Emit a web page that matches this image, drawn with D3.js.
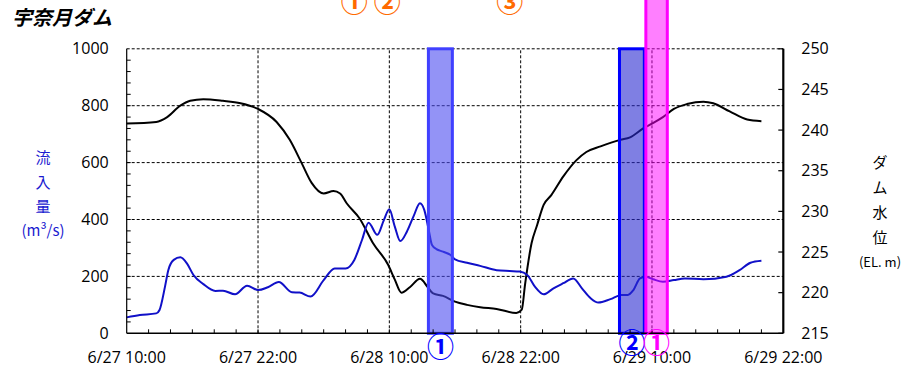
<!DOCTYPE html>
<html>
<head>
<meta charset="utf-8">
<script src="https://cdn.jsdelivr.net/npm/d3@7"></script>
<style>
  body { margin: 0; background: #fff; }
  svg { display: block; font-family: "Open Sans", "Noto Sans CJK JP", sans-serif; }
</style>
</head>
<body>
<div id="chart"></div>
<script>
// hours counted from 6/27 10:00
const inflowHours = [0, 1.2, 2.7, 3.0, 3.5, 3.8, 4.3, 4.9, 5.5, 6.1, 7.0, 8.1, 8.8, 9.9, 11.0, 12.0, 12.9, 13.9, 15.1, 15.8, 16.8, 18.0, 19.0, 20.0, 20.8, 21.5, 22.1, 22.9, 23.5, 24.0, 24.5, 25.0, 25.6, 26.2, 26.8, 27.2, 27.6, 27.9, 28.3, 28.9, 29.6, 30.0, 31.1, 32.3, 33.8, 35.0, 35.9, 36.6, 37.3, 38.1, 39.0, 39.9, 40.8, 41.6, 42.4, 43.1, 44.2, 45.2, 45.8, 46.3, 46.9, 47.4, 48.1, 49.0, 50.0, 51.0, 52.7, 54.8, 56.0, 57.0, 58.0];
const inflow = [56, 64, 70, 82, 164, 222, 258, 267, 246, 205, 173, 149, 150, 137, 167, 152, 162, 180, 144, 143, 129, 187, 228, 228, 258, 328, 389, 346, 398, 436, 375, 324, 357, 410, 457, 433, 363, 310, 296, 287, 275, 260, 248, 237, 222, 219, 217, 205, 164, 137, 158, 176, 193, 158, 123, 108, 120, 135, 135, 152, 193, 199, 190, 181, 187, 193, 190, 199, 222, 248, 255];

const levelHours = [0, 2.7, 3.7, 4.9, 5.8, 7.0, 8.8, 10.4, 12.0, 13.7, 14.9, 16.0, 16.9, 18.0, 18.9, 19.5, 20.1, 21.3, 22.5, 23.9, 24.5, 25.1, 25.9, 26.8, 27.5, 28.0, 28.9, 30.0, 31.1, 32.3, 33.8, 35.6, 36.1, 36.4, 37.0, 37.5, 38.1, 38.8, 39.9, 41.1, 42.0, 43.3, 45.1, 46.0, 47.2, 48.0, 49.0, 50.0, 51.2, 52.7, 53.6, 55.1, 56.7, 58.0];
const level = [240.8, 241.0, 241.6, 243.0, 243.6, 243.8, 243.6, 243.3, 242.6, 241.0, 238.8, 235.9, 233.5, 232.2, 232.5, 232.2, 231.0, 229.1, 226.1, 223.4, 221.6, 220.0, 220.7, 221.7, 220.7, 219.9, 219.6, 218.9, 218.5, 218.2, 218.0, 217.5, 217.9, 221.0, 226.1, 228.3, 230.8, 232.0, 234.3, 236.3, 237.3, 238.0, 238.8, 239.1, 240.2, 240.8, 241.6, 242.6, 243.2, 243.5, 243.3, 242.3, 241.3, 241.1];

const xTickHours = [0, 12, 24, 36, 48, 60];
const xTickLabels = ["6/27 10:00", "6/27 22:00", "6/28 10:00", "6/28 22:00", "6/29 10:00", "6/29 22:00"];
const leftTicks = [0, 200, 400, 600, 800, 1000];
const rightTicks = [215, 220, 225, 230, 235, 240, 245, 250];

// shaded periods (hours) and their markers
const spanStart = [27.57, 45.03, 47.44];
const spanEnd = [29.76, 47.3, 49.4];
const spanLabel = ["①", "②", "①"];
const topMarkHours = [20.8, 23.8, 35.0];
const topMarkLabels = ["①", "②", "③"];

const width = 917, height = 371;

const svg = d3.select("#chart").append("svg")
  .attr("width", width)
  .attr("height", height);

const x = d3.scaleLinear().domain([0, 60]).range([126.7, 783.3]);
const yL = d3.scaleLinear().domain([0, 1000]).range([333.3, 48.8]);
const yR = d3.scaleLinear().domain([215, 250]).range([333.3, 48.8]);

// grid
svg.append("g").selectAll("line")
  .data(leftTicks.slice(1))
  .join("line")
  .attr("x1", x(0)).attr("x2", x(60))
  .attr("y1", d => yL(d)).attr("y2", d => yL(d))
  .attr("stroke", "#000").attr("stroke-width", 1)
  .attr("stroke-dasharray", "3,2");

svg.append("g").selectAll("line")
  .data(xTickHours.slice(1, -1))
  .join("line")
  .attr("x1", d => x(d)).attr("x2", d => x(d))
  .attr("y1", yL(0)).attr("y2", yL(1000))
  .attr("stroke", "#000").attr("stroke-width", 1)
  .attr("stroke-dasharray", "3,2");

// lines
const levelLine = d3.line()
  .x((d, i) => x(levelHours[i]))
  .y(d => yR(d))
  .curve(d3.curveMonotoneX);

const inflowLine = d3.line()
  .x((d, i) => x(inflowHours[i]))
  .y(d => yL(d))
  .curve(d3.curveMonotoneX);

svg.append("path")
  .datum(level)
  .attr("d", levelLine)
  .attr("fill", "none")
  .attr("stroke", "#000")
  .attr("stroke-width", 2);

svg.append("path")
  .datum(inflow)
  .attr("d", inflowLine)
  .attr("fill", "none")
  .attr("stroke", "#1010c8")
  .attr("stroke-width", 2);

// shaded spans
const spanFill = ["#4b4bf0", "#2a2ad0", "#ff00ff"];
const spanStroke = ["#4040ff", "#0000ff", "#ff00ff"];
const spanOpacity = [0.6, 0.6, 0.5];
const spanTop = [1000, 1000, 1200];

svg.append("g").selectAll("rect")
  .data(spanStart)
  .join("rect")
  .attr("x", (d, i) => x(d))
  .attr("y", (d, i) => yL(spanTop[i]))
  .attr("width", (d, i) => x(spanEnd[i]) - x(d))
  .attr("height", (d, i) => yL(0) - yL(spanTop[i]))
  .attr("fill", (d, i) => spanFill[i])
  .attr("fill-opacity", (d, i) => spanOpacity[i])
  .attr("stroke", (d, i) => spanStroke[i])
  .attr("stroke-width", 3);

// axes
svg.append("line")
  .attr("x1", x(0)).attr("x2", x(0))
  .attr("y1", yL(0)).attr("y2", yL(1000))
  .attr("stroke", "#000").attr("stroke-width", 1.2);

svg.append("line")
  .attr("x1", x(60)).attr("x2", x(60))
  .attr("y1", yL(0)).attr("y2", yL(1000))
  .attr("stroke", "#000").attr("stroke-width", 2.2);

svg.append("line")
  .attr("x1", x(0)).attr("x2", x(60))
  .attr("y1", yL(0)).attr("y2", yL(0))
  .attr("stroke", "#000").attr("stroke-width", 1.5);

// left minor ticks every 40
svg.append("g").selectAll("line")
  .data(d3.range(40, 1000, 40))
  .join("line")
  .attr("x1", x(0)).attr("x2", x(0) + 4)
  .attr("y1", d => yL(d)).attr("y2", d => yL(d))
  .attr("stroke", "#000");

// right ticks
svg.append("g").selectAll("line")
  .data(rightTicks)
  .join("line")
  .attr("x1", x(60)).attr("x2", x(60) - 5)
  .attr("y1", d => yR(d)).attr("y2", d => yR(d))
  .attr("stroke", "#000").attr("stroke-width", 1.2);

// bottom ticks every 2 h
svg.append("g").selectAll("line")
  .data(d3.range(2, 60, 2))
  .join("line")
  .attr("x1", d => x(d)).attr("x2", d => x(d))
  .attr("y1", yL(0)).attr("y2", yL(0) - 4)
  .attr("stroke", "#000");

// tick labels
svg.append("g").selectAll("text")
  .data(leftTicks)
  .join("text")
  .attr("x", x(0) - 18)
  .attr("y", d => yL(d))
  .attr("dy", "0.35em")
  .attr("text-anchor", "end")
  .style("font-size", "16px")
  .text(d => d);

svg.append("g").selectAll("text")
  .data(rightTicks)
  .join("text")
  .attr("x", x(60) + 18)
  .attr("y", d => yR(d))
  .attr("dy", "0.35em")
  .attr("text-anchor", "start")
  .style("font-size", "16px")
  .text(d => d);

svg.append("g").selectAll("text")
  .data(xTickHours)
  .join("text")
  .attr("x", d => x(d))
  .attr("y", 363)
  .attr("text-anchor", "middle")
  .style("font-size", "16px")
  .text((d, i) => xTickLabels[i]);

// title
svg.append("text")
  .attr("x", 12)
  .attr("y", 25)
  .style("font-family", "'Noto Sans CJK JP'")
  .style("font-size", "20px")
  .style("font-weight", "bold")
  .style("font-style", "italic")
  .text("宇奈月ダム");

// axis titles
const leftTitle = ["流", "入", "量", "(m³/s)"];
svg.append("g").selectAll("text")
  .data(leftTitle)
  .join("text")
  .attr("x", 43)
  .attr("y", (d, i) => 158 + i * 24.3)
  .attr("dy", "0.35em")
  .attr("text-anchor", "middle")
  .style("font-family", "'Noto Sans CJK JP'")
  .style("font-size", "15px")
  .attr("fill", "#1a1ad0")
  .text(d => d);

const rightTitle = ["ダ", "ム", "水", "位", "(EL. m)"];
svg.append("g").selectAll("text")
  .data(rightTitle)
  .join("text")
  .attr("x", 880)
  .attr("y", (d, i) => 163 + i * 24.8)
  .attr("dy", "0.35em")
  .attr("text-anchor", "middle")
  .style("font-family", "'Noto Sans CJK JP'")
  .style("font-size", (d, i) => i === 4 ? "13px" : "15px")
  .text(d => d);

// circled markers
svg.append("g").selectAll("text")
  .data(topMarkHours)
  .join("text")
  .attr("x", d => x(d))
  .attr("y", 3)
  .attr("dy", "0.35em")
  .attr("text-anchor", "middle")
  .style("font-family", "'Noto Sans CJK JP'")
  .style("font-size", "27px")
  .style("font-weight", "bold")
  .attr("fill", "#ff6a00")
  .text((d, i) => topMarkLabels[i]);

const spanLabelColor = ["#0000ff", "#0000ff", "#ff00ff"];
const spanLabelY = [348, 344, 344];
svg.append("g").selectAll("text")
  .data(spanStart)
  .join("text")
  .attr("x", (d, i) => x((d + spanEnd[i]) / 2))
  .attr("y", (d, i) => spanLabelY[i])
  .attr("dy", "0.35em")
  .attr("text-anchor", "middle")
  .style("font-family", "'Noto Sans CJK JP'")
  .style("font-size", "27px")
  .style("font-weight", "bold")
  .attr("fill", (d, i) => spanLabelColor[i])
  .text((d, i) => spanLabel[i]);
</script>
</body>
</html>
